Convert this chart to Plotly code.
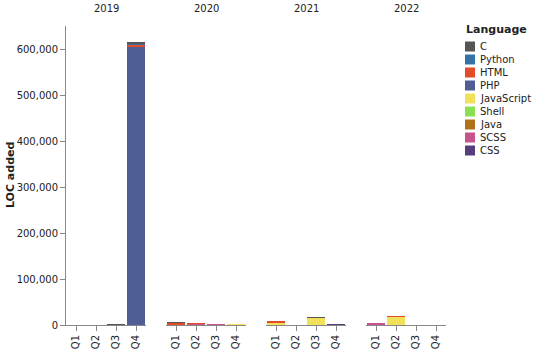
import plotly.graph_objects as go

years = ["2019", "2020", "2021", "2022"]
quarters = ["Q1", "Q2", "Q3", "Q4"]
languages = ["C", "Python", "HTML", "PHP", "JavaScript", "Shell", "Java", "SCSS", "CSS"]
colors = ["#555555", "#3572A5", "#e34c26", "#4F5D95", "#f1e05a", "#89e051", "#b07219", "#c6538c", "#563d7c"]

# LOC added per language, per year, per quarter (Q1..Q4)
loc = {
    "C":          {"2019": [0, 0, 2000, 5500], "2020": [800, 0, 0, 0],    "2021": [0, 0, 800, 0],      "2022": [0, 0, 0, 0]},
    "Python":     {"2019": [0, 0, 0, 1000],    "2020": [0, 0, 0, 0],      "2021": [0, 0, 0, 0],        "2022": [0, 0, 0, 0]},
    "HTML":       {"2019": [0, 0, 0, 4500],    "2020": [5000, 500, 0, 0], "2021": [1500, 0, 0, 0],     "2022": [0, 800, 0, 0]},
    "PHP":        {"2019": [0, 0, 0, 604500],  "2020": [0, 0, 0, 0],      "2021": [0, 0, 0, 0],        "2022": [0, 0, 0, 0]},
    "JavaScript": {"2019": [0, 0, 0, 0],       "2020": [0, 0, 0, 500],    "2021": [6500, 0, 16500, 0], "2022": [0, 18500, 0, 0]},
    "Shell":      {"2019": [0, 0, 0, 0],       "2020": [0, 0, 0, 0],      "2021": [0, 0, 0, 0],        "2022": [0, 0, 0, 0]},
    "Java":       {"2019": [0, 0, 0, 0],       "2020": [0, 0, 0, 1500],   "2021": [0, 0, 0, 0],        "2022": [0, 0, 0, 0]},
    "SCSS":       {"2019": [0, 0, 0, 0],       "2020": [0, 3000, 800, 0], "2021": [0, 0, 0, 0],        "2022": [2500, 0, 0, 0]},
    "CSS":        {"2019": [0, 0, 0, 0],       "2020": [0, 0, 0, 0],      "2021": [0, 0, 0, 1000],     "2022": [0, 0, 0, 0]},
}

W, H = 534, 351
ml, mr, mt, mb = 66, 88, 26, 26
plot_w = W - ml - mr
ph = H - mt - mb
panel_w, gap = 80, 20
axis_gray = "#888888"
font_family = "DejaVu Sans, sans-serif"

fig = go.Figure()

# stack bottom->top in reverse legend order
for lang, col in reversed(list(zip(languages, colors))):
    for i, yr in enumerate(years):
        fig.add_trace(go.Bar(
            x=quarters, y=loc[lang][yr],
            xaxis="x" if i == 0 else f"x{i+1}", yaxis="y",
            marker=dict(color=col, line=dict(width=0)),
            name=lang, showlegend=False,
            hovertemplate=f"{lang} {yr} %{{x}}: %{{y:,}}<extra></extra>",
        ))

layout = dict(
    width=W, height=H,
    margin=dict(l=ml, r=mr, t=mt, b=mb),
    barmode="stack", bargap=0.1,
    plot_bgcolor="white", paper_bgcolor="white",
    font=dict(family=font_family, size=10, color="#222"),
    showlegend=False,
    yaxis=dict(
        range=[0, 650000], tickvals=[0, 100000, 200000, 300000, 400000, 500000, 600000],
        tickformat=",d", showgrid=False, zeroline=False,
        showline=True, linecolor=axis_gray, linewidth=1,
        ticks="outside", ticklen=5, tickcolor=axis_gray,
        tickfont=dict(size=10, color="#222"),
        anchor="x", automargin=False,
    ),
)
annotations = [dict(
    text="<b>LOC added</b>", xref="paper", yref="paper",
    x=(10 - ml) / plot_w, y=1 - (175 - mt) / ph, xanchor="center", yanchor="middle",
    textangle=-90, showarrow=False, font=dict(size=11, color="#222"),
)]
for i, yr in enumerate(years):
    x0 = (i * (panel_w + gap)) / plot_w
    x1 = (i * (panel_w + gap) + panel_w) / plot_w
    key = "xaxis" if i == 0 else f"xaxis{i+1}"
    layout[key] = dict(
        domain=[x0, x1], anchor="y", categoryorder="array", categoryarray=quarters,
        showgrid=False, zeroline=False, showline=True, linecolor=axis_gray, linewidth=1,
        ticks="outside", ticklen=5, tickcolor=axis_gray, tickangle=-90,
        tickfont=dict(size=10, color="#222"), automargin=False,
    )
    annotations.append(dict(
        text=yr, xref="paper", yref="paper", x=(x0 + x1) / 2, y=1,
        xanchor="center", yanchor="bottom", yshift=10, showarrow=False,
        font=dict(size=10, color="#222"),
    ))

# legend (drawn from languages/colors)
shapes = []
lx_px = 465
annotations.append(dict(
    text="<b>Language</b>", xref="paper", yref="paper",
    x=(lx_px - 1 - ml) / plot_w, y=1 - (30 - mt) / ph,
    xanchor="left", yanchor="middle", showarrow=False,
    font=dict(size=11, color="#222"),
))
for k, (lang, col) in enumerate(zip(languages, colors)):
    cy = 46.5 + k * 13
    shapes.append(dict(
        type="rect", xref="paper", yref="paper",
        x0=(lx_px - ml) / plot_w, x1=(lx_px + 10 - ml) / plot_w,
        y0=1 - (cy + 5 - mt) / ph, y1=1 - (cy - 5 - mt) / ph,
        fillcolor=col, line=dict(width=0),
    ))
    annotations.append(dict(
        text=lang, xref="paper", yref="paper",
        x=(lx_px + 13 - ml) / plot_w, y=1 - (cy - mt) / ph,
        xanchor="left", yanchor="middle", showarrow=False,
        font=dict(size=10, color="#222"),
    ))

layout["annotations"] = annotations
layout["shapes"] = shapes
fig.update_layout(**layout)
fig.write_html("out.html")
